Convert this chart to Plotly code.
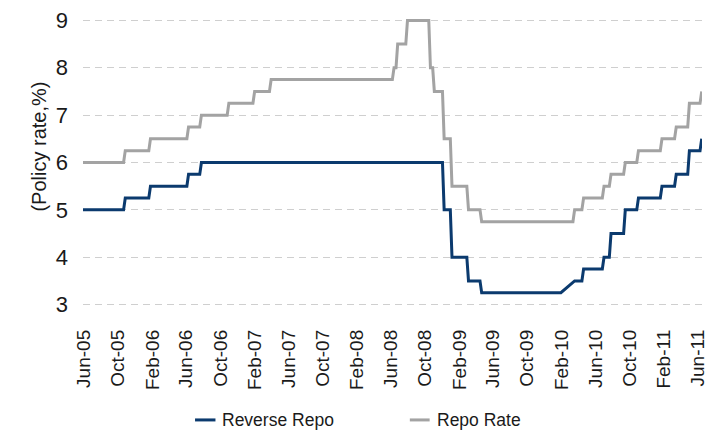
import pandas as pd
import plotly.graph_objects as go

# Policy-rate change dates (start of series, then each revision) and the new rate in %
repo_dates = ["2005-05-27", "2005-10-26", "2006-01-24", "2006-06-09", "2006-07-25",
              "2006-10-31", "2007-01-31", "2007-03-31", "2008-06-12", "2008-06-25",
              "2008-07-30", "2008-10-20", "2008-11-03", "2008-12-08", "2009-01-05",
              "2009-03-05", "2009-04-21", "2010-03-19", "2010-04-20", "2010-07-02",
              "2010-07-27", "2010-09-16", "2010-11-02", "2011-01-25", "2011-03-17",
              "2011-05-03", "2011-06-16"]
repo_rates = [6.00, 6.25, 6.50, 6.75, 7.00, 7.25, 7.50, 7.75, 8.00, 8.50,
              9.00, 8.00, 7.50, 6.50, 5.50, 5.00, 4.75, 5.00, 5.25, 5.50,
              5.75, 6.00, 6.25, 6.50, 6.75, 7.25, 7.50]

rrepo_dates = ["2005-05-27", "2005-10-26", "2006-01-24", "2006-06-09", "2006-07-25",
               "2008-12-08", "2009-01-05", "2009-03-05", "2009-04-21", "2010-03-19",
               "2010-04-20", "2010-07-02", "2010-07-27", "2010-09-16", "2010-11-02",
               "2011-01-25", "2011-03-17", "2011-05-03", "2011-06-16"]
rrepo_rates = [5.00, 5.25, 5.50, 5.75, 6.00, 5.00, 4.00, 3.50, 3.25, 3.50,
               3.75, 4.00, 4.50, 5.00, 5.25, 5.50, 5.75, 6.25, 6.50]
# reverse repo series has no weekly observations between these two dates
rrepo_gaps = {"2010-03-19": "2010-01-29"}

tick_dates = ["2005-06-01", "2005-10-01", "2006-02-01", "2006-06-01", "2006-10-01",
              "2007-02-01", "2007-06-01", "2007-10-01", "2008-02-01", "2008-06-01",
              "2008-10-01", "2009-02-01", "2009-06-01", "2009-10-01", "2010-02-01",
              "2010-06-01", "2010-10-01", "2011-02-01", "2011-06-01"]
tick_labels = ["Jun-05", "Oct-05", "Feb-06", "Jun-06", "Oct-06", "Feb-07", "Jun-07",
               "Oct-07", "Feb-08", "Jun-08", "Oct-08", "Feb-09", "Jun-09", "Oct-09",
               "Feb-10", "Jun-10", "Oct-10", "Feb-11", "Jun-11"]


def weekly_steps(dates, rates, gaps=None):
    """Weekly-sampled step series: old rate at the last observation before each change."""
    gaps = gaps or {}
    xs, ys = [pd.Timestamp(dates[0])], [rates[0]]
    for d, r, prev in zip(dates[1:], rates[1:], rates[:-1]):
        t = pd.Timestamp(d)
        before = pd.Timestamp(gaps[d]) if d in gaps else t - pd.Timedelta(days=6)
        xs += [before, t]
        ys += [prev, r]
    return xs, ys


FONT = "Liberation Sans, Arial, sans-serif"
INK = "#1a1a1a"
BLUE = "#0b3a6e"
GREY = "#a3a3a3"

fig = go.Figure()
rx, ry = weekly_steps(rrepo_dates, rrepo_rates, rrepo_gaps)
px_, py_ = weekly_steps(repo_dates, repo_rates)
fig.add_trace(go.Scatter(x=rx, y=ry, mode="lines", name="Reverse Repo",
                         line=dict(color=BLUE, width=3)))
fig.add_trace(go.Scatter(x=px_, y=py_, mode="lines", name="Repo Rate",
                         line=dict(color=GREY, width=3)))

fig.update_layout(
    width=716, height=432,
    margin=dict(l=83, r=8, t=19, b=126),
    paper_bgcolor="white", plot_bgcolor="white",
    font=dict(family=FONT, size=19, color=INK),
    showlegend=False,
)
fig.update_xaxes(
    type="date", range=["2005-05-28", "2011-06-17"],
    tickmode="array", tickvals=tick_dates, ticktext=tick_labels,
    tickangle=-90, ticklabelstandoff=19, tickfont=dict(size=19),
    showgrid=False, zeroline=False, showline=False, ticks="",
)
fig.update_yaxes(
    range=[2.97, 9.03], tickmode="array", tickvals=[3, 4, 5, 6, 7, 8, 9],
    tickfont=dict(size=22),
    showgrid=True, gridcolor="#cfcfcf", gridwidth=1, griddash="7px,5px",
    zeroline=False, showline=False, ticks="", ticklabelstandoff=14,
)

# axis title
fig.add_annotation(text="(Policy rate,%)", xref="paper", yref="paper",
                   x=-0.0928, y=0.554, textangle=-90, showarrow=False,
                   font=dict(family=FONT, size=20, color=INK))

# legend: short line swatch followed by label
LEG_Y = -0.397
for name, color, x0, x1, xt in [("Reverse Repo", BLUE, 0.181, 0.214, 0.222),
                                 ("Repo Rate", GREY, 0.528, 0.560, 0.568)]:
    fig.add_shape(type="line", xref="paper", yref="paper", x0=x0, x1=x1,
                  y0=LEG_Y, y1=LEG_Y, line=dict(color=color, width=3))
    fig.add_annotation(text=name, xref="paper", yref="paper", x=xt, y=LEG_Y,
                       xanchor="left", yanchor="middle", showarrow=False,
                       font=dict(family=FONT, size=17.5, color=INK))

fig.write_html("out.html")
